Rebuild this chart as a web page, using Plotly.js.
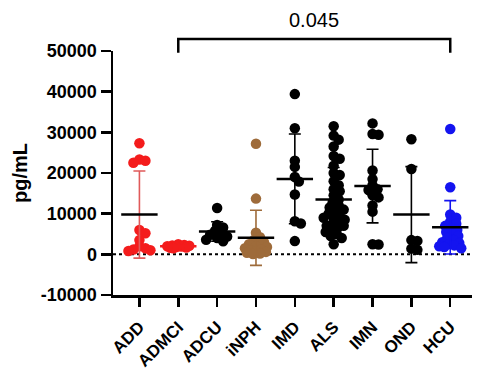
<!DOCTYPE html>
<html>
<head>
<meta charset="utf-8">
<script src="https://cdn.plot.ly/plotly-3.0.1.min.js"></script>
<style>html,body{margin:0;padding:0;background:#fff;}#chart{width:490px;height:370px;}</style>
</head>
<body>
<div id="chart"></div>
<script>
// ---- data ----
const categories = ["ADD", "ADMCI", "ADCU", "iNPH", "IMD", "ALS", "IMN", "OND", "HCU"];
const ADD   = [27300, 23300, 23000, 22500, 6000, 5200, 3500, 2000, 1500, 1200, 1000, 800];
const ADMCI = [2500, 2300, 2200, 2100, 2000, 1900, 1800, 1700, 1600, 1500];
const ADCU  = [11400, 7200, 6600, 5800, 5200, 4800, 4400, 4000, 3600, 3200];
const iNPH  = [27200, 13700, 5300, 4200, 3500, 3000, 2500, 2000, 1800, 1500, 1200, 1000, 800, 600, 400, 200, 100];
const IMD   = [39400, 31000, 23000, 21500, 19000, 17900, 14700, 8150, 7600, 3250];
const ALS   = [31500, 29200, 28200, 26500, 24200, 23500, 21800, 20000, 19500, 18000, 17000, 16000,
               15500, 14500, 13500, 12800, 12000, 11500, 11000, 10500, 10000, 9500, 9000, 9000,
               8500, 8000, 7500, 7000, 7000, 6500, 6000, 5500, 5000, 4500, 4000, 2500];
const IMN   = [32200, 29600, 29400, 20600, 18500, 17000, 16000, 15800, 14500, 14000, 12000, 10500, 2500, 2400];
const OND   = [28300, 21000, 3500, 3300, 1100, 1400];
const HCU   = [30800, 16500, 9800, 9000, 8000, 7500, 7000, 6500, 6000, 5500, 5000, 4500, 4000,
               3500, 3000, 2800, 2500, 2200, 2000, 1800, 1500];
const groups = [ADD, ADMCI, ADCU, iNPH, IMD, ALS, IMN, OND, HCU];
const pointColors = ["#f41c1c", "#f41c1c", "#000000", "#9e6b3a", "#000000", "#000000", "#000000", "#000000", "#1414f0"];
const barColors   = ["#e05a5a", "#f41c1c", "#000000", "#9e6b3a", "#000000", "#000000", "#000000", "#000000", "#1414f0"];
const meanColors  = ["#000000", "#f41c1c", "#000000", "#000000", "#000000", "#000000", "#000000", "#000000", "#000000"];
const yTickVals   = [-10000, 0, 10000, 20000, 30000, 40000, 50000];
const yTickLabels = ["-10000", "0", "10000", "20000", "30000", "40000", "50000"];
const pLabel = "0.045";
const bracketFrom = 1, bracketTo = 8;

// ---- layout geometry ----
const W = 490, H = 370;
const M = {l: 113, r: 18, t: 51, b: 75};
const xr = [-0.68, 8.56], yr = [-10000, 50000];
const plotW = W - M.l - M.r, plotH = H - M.t - M.b;
const pxPerX = plotW / (xr[1] - xr[0]);
const pxPerY = plotH / (yr[1] - yr[0]);
const toPaperX = v => (v - xr[0]) / (xr[1] - xr[0]);

function mean(a) { return a.reduce((s, v) => s + v, 0) / a.length; }
function sd(a) { const m = mean(a); return Math.sqrt(a.reduce((s, v) => s + (v - m) * (v - m), 0) / (a.length - 1)); }

// beeswarm-like spread in pixel space, capped in width (points may overlap, as in the reference)
function swarm(vals, center) {
  const D = 6, cap = 11;
  const order = vals.map((v, k) => k).sort((a, b) => vals[b] - vals[a]);
  const placed = [];
  const xs = new Array(vals.length);
  const cands = [0];
  for (let o = 1; o <= cap; o++) { cands.push(o, -o); }
  order.forEach(k => {
    const y = vals[k] * pxPerY;
    let best = null, bestD = -1;
    for (const off of cands) {
      const dmin = placed.reduce((m, p) => Math.min(m, Math.hypot(p[0] - off, p[1] - y)), Infinity);
      if (dmin >= D) { best = off; bestD = Infinity; break; }
      if (dmin > bestD + 0.01) { bestD = dmin; best = off; }
    }
    placed.push([best, y]);
    xs[k] = center + best / pxPerX;
  });
  return xs;
}

const traces = [];
groups.forEach((g, i) => {
  traces.push({
    type: "scatter", mode: "markers", x: swarm(g, i), y: g,
    marker: {color: pointColors[i], size: 10.5, line: {width: 0}},
    hoverinfo: "y", showlegend: false, cliponaxis: false
  });
});
groups.forEach((g, i) => {
  traces.push({
    type: "scatter", mode: "markers", x: [i], y: [mean(g)],
    marker: {symbol: "line-ew", size: 26, color: meanColors[i], line: {color: meanColors[i], width: 2.5}},
    error_y: {type: "data", array: [sd(g)], visible: true, color: barColors[i], thickness: 1.6, width: 6},
    hoverinfo: "y", showlegend: false, cliponaxis: false
  });
});

const axisFont = {family: "Liberation Sans, Arial, sans-serif", size: 18, color: "#000", weight: "bold"};
const xFont = {family: "Liberation Sans, Arial, sans-serif", size: 17, color: "#000", weight: "bold"};
const titleFont = {family: "Liberation Sans, Arial, sans-serif", size: 20, color: "#000", weight: "bold"};

const layout = {
  width: W, height: H,
  margin: M,
  paper_bgcolor: "#fff", plot_bgcolor: "#fff",
  showlegend: false,
  xaxis: {
    range: xr, tickvals: categories.map((c, i) => i), ticktext: categories,
    tickangle: -45, tickfont: xFont, ticklabelstandoff: 4,
    showline: true, linecolor: "#000", linewidth: 2.5,
    ticks: "outside", ticklen: 9, tickwidth: 2.5, tickcolor: "#000",
    showgrid: false, zeroline: false, fixedrange: true
  },
  yaxis: {
    range: yr, tickvals: yTickVals, ticktext: yTickLabels, tickfont: axisFont,
    showline: true, linecolor: "#000", linewidth: 2.5,
    ticks: "outside", ticklen: 10, tickwidth: 2.5, tickcolor: "#000",
    showgrid: false, zeroline: false, fixedrange: true,
    title: {text: "pg/mL", font: titleFont, standoff: 8}
  },
  shapes: [
    {type: "line", xref: "paper", yref: "y", x0: 0, x1: 1, y0: 0, y1: 0,
     line: {color: "#000", width: 2, dash: "dot"}, layer: "below"},
    {type: "path", xref: "paper", yref: "paper",
     path: "M " + toPaperX(bracketFrom) + " 0.993 L " + toPaperX(bracketFrom) + " 1.049 L " +
           toPaperX(bracketTo) + " 1.049 L " + toPaperX(bracketTo) + " 0.993",
     line: {color: "#000", width: 2.5}}
  ],
  annotations: [
    {xref: "paper", yref: "paper", x: toPaperX((bracketFrom + bracketTo) / 2), y: 1.127,
     xanchor: "center", yanchor: "middle", text: pLabel, showarrow: false,
     font: {family: "Liberation Sans, Arial, sans-serif", size: 20, color: "#000"}}
  ]
};

Plotly.newPlot("chart", traces, layout, {displayModeBar: false, staticPlot: true});
</script>
</body>
</html>
